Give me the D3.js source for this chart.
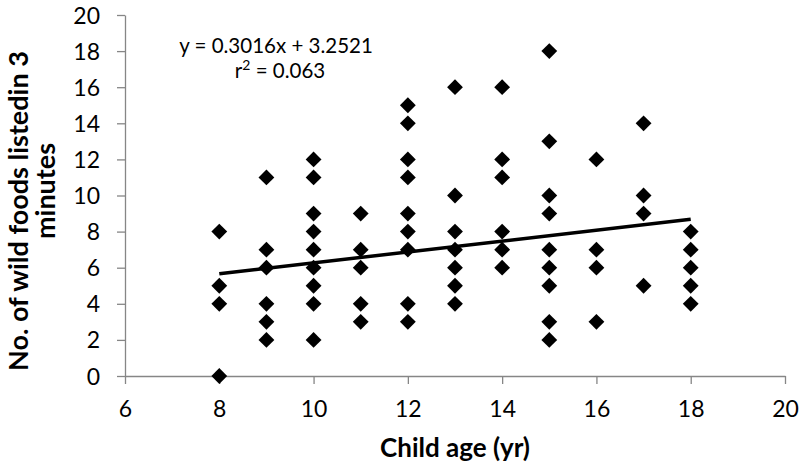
<!DOCTYPE html>
<html>
<head>
<meta charset="utf-8">
<script src="https://cdn.jsdelivr.net/npm/d3@7"></script>
<style>
  body { margin: 0; background: #fff; }
  text { font-family: Lato, "Open Sans", sans-serif; fill: #000; }
</style>
</head>
<body>
<div id="chart"></div>
<script>
const width = 799, height = 465;
const margin = { left: 125, top: 15, right: 14, bottom: 89 };

// child age (yr) and number of wild foods listed for each point
const ages = [
  8, 8, 8, 8,
  9, 9, 9, 9, 9, 9,
  10, 10, 10, 10, 10, 10, 10, 10, 10,
  11, 11, 11, 11, 11,
  12, 12, 12, 12, 12, 12, 12, 12, 12,
  13, 13, 13, 13, 13, 13, 13,
  14, 14, 14, 14, 14, 14,
  15, 15, 15, 15, 15, 15, 15, 15, 15,
  16, 16, 16, 16,
  17, 17, 17, 17,
  18, 18, 18, 18, 18
];
const foods = [
  8, 5, 4, 0,
  11, 7, 6, 4, 3, 2,
  12, 11, 9, 8, 7, 6, 5, 4, 2,
  9, 7, 6, 4, 3,
  15, 14, 12, 11, 9, 8, 7, 4, 3,
  16, 10, 8, 7, 6, 5, 4,
  16, 12, 11, 8, 7, 6,
  18, 13, 10, 9, 7, 6, 5, 3, 2,
  12, 7, 6, 3,
  14, 10, 9, 5,
  8, 7, 6, 5, 4
];
const xTicks = [6, 8, 10, 12, 14, 16, 18, 20];
const yTicks = [0, 2, 4, 6, 8, 10, 12, 14, 16, 18, 20];
const slope = 0.3016, intercept = 3.2521;
const trendRange = [8, 18];

const points = ages.map((a, i) => ({ age: a, n: foods[i] }));

const svg = d3.select('#chart')
  .append('svg')
  .attr('width', width)
  .attr('height', height);

const x = d3.scaleLinear().domain([6, 20]).range([margin.left, width - margin.right]);
const y = d3.scaleLinear().domain([0, 20]).range([height - margin.bottom, margin.top]);

const xAxis = svg.append('g')
  .attr('transform', `translate(0,${y(0)})`)
  .call(d3.axisBottom(x).tickValues(xTicks).tickSize(8).tickPadding(17).tickSizeOuter(0));

const yAxis = svg.append('g')
  .attr('transform', `translate(${x(6)},0)`)
  .call(d3.axisLeft(y).tickValues(yTicks).tickSize(8).tickPadding(17).tickSizeOuter(0));

[xAxis, yAxis].forEach(g => {
  g.selectAll('path, line').attr('stroke', '#868686').attr('stroke-width', 1.3);
  g.selectAll('text').style('font-size', '23px').attr('fill', '#000');
});
yAxis.selectAll('text').attr('dy', '0.35em');

// trend line
svg.append('line')
  .attr('x1', x(trendRange[0]))
  .attr('y1', y(slope * trendRange[0] + intercept))
  .attr('x2', x(trendRange[1]))
  .attr('y2', y(slope * trendRange[1] + intercept))
  .attr('stroke', '#000')
  .attr('stroke-width', 3.5);

// diamond markers
const diamond = d3.symbol().type(d3.symbolSquare).size(125);
svg.append('g')
  .selectAll('path')
  .data(points)
  .enter()
  .append('path')
  .attr('d', diamond)
  .attr('transform', d => `translate(${x(d.age)},${y(d.n)}) rotate(45)`)
  .attr('fill', '#000');

// equation
svg.append('text')
  .attr('x', 276).attr('y', 53)
  .attr('text-anchor', 'middle')
  .style('font-size', '20.5px')
  .text('y = 0.3016x + 3.2521');

const r2 = svg.append('text')
  .attr('x', 280).attr('y', 78)
  .attr('text-anchor', 'middle')
  .style('font-size', '20.5px');
r2.append('tspan').text('r');
r2.append('tspan').attr('dy', -8).style('font-size', '14px').text('2');
r2.append('tspan').attr('dy', 8).text(' = 0.063');

// axis titles
svg.append('text')
  .attr('x', 455)
  .attr('y', 457)
  .attr('text-anchor', 'middle')
  .style('font-size', '26px')
  .style('font-weight', 'bold')
  .text('Child age (yr)');

const yTitle = svg.append('text')
  .attr('transform', 'rotate(-90)')
  .attr('text-anchor', 'middle')
  .style('font-size', '27px')
  .style('font-weight', 'bold');
yTitle.append('tspan').attr('x', -211).attr('y', 28).text('No. of wild foods listedin 3');
yTitle.append('tspan').attr('x', -191).attr('y', 55).text('minutes');
</script>
</body>
</html>
